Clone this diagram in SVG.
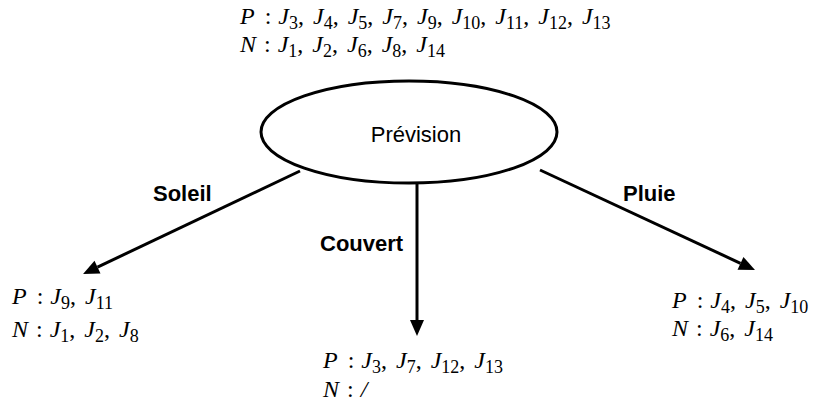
<svg xmlns="http://www.w3.org/2000/svg" width="813" height="408" viewBox="0 0 813 408">
<defs>
<style>
.m{font-family:"Liberation Serif","Times New Roman",serif;font-size:24px;fill:#000}
.i{font-style:italic}
.s{font-size:18px}
.lbl{font-family:"Liberation Sans",Arial,sans-serif;font-size:22px;font-weight:bold;fill:#000}
.node{font-family:"Liberation Sans",Arial,sans-serif;font-size:22px;fill:#000}
.edge{stroke:#000;stroke-width:3;fill:none}
</style>
<marker id="arr" markerUnits="userSpaceOnUse" markerWidth="16" markerHeight="14" refX="0" refY="7" orient="auto" overflow="visible">
<path d="M0,0 L16,7 L0,14 Z" fill="#000"/>
</marker>
</defs>
<rect width="813" height="408" fill="#fff"/>
<g id="root">
<text class="m" x="240" y="24"><tspan class="i">P</tspan><tspan dx="10">:</tspan><tspan class="i" dx="7">J</tspan><tspan class="s" dy="5">3</tspan><tspan dy="-5">,</tspan><tspan class="i" dx="9">J</tspan><tspan class="s" dy="5">4</tspan><tspan dy="-5">,</tspan><tspan class="i" dx="9">J</tspan><tspan class="s" dy="5">5</tspan><tspan dy="-5">,</tspan><tspan class="i" dx="9">J</tspan><tspan class="s" dy="5">7</tspan><tspan dy="-5">,</tspan><tspan class="i" dx="9">J</tspan><tspan class="s" dy="5">9</tspan><tspan dy="-5">,</tspan><tspan class="i" dx="9">J</tspan><tspan class="s" dy="5">10</tspan><tspan dy="-5">,</tspan><tspan class="i" dx="9">J</tspan><tspan class="s" dy="5">11</tspan><tspan dy="-5">,</tspan><tspan class="i" dx="9">J</tspan><tspan class="s" dy="5">12</tspan><tspan dy="-5">,</tspan><tspan class="i" dx="9">J</tspan><tspan class="s" dy="5">13</tspan></text>
<text class="m" x="240" y="52"><tspan class="i">N</tspan><tspan dx="8">:</tspan><tspan class="i" dx="7">J</tspan><tspan class="s" dy="5">1</tspan><tspan dy="-5">,</tspan><tspan class="i" dx="9">J</tspan><tspan class="s" dy="5">2</tspan><tspan dy="-5">,</tspan><tspan class="i" dx="9">J</tspan><tspan class="s" dy="5">6</tspan><tspan dy="-5">,</tspan><tspan class="i" dx="9">J</tspan><tspan class="s" dy="5">8</tspan><tspan dy="-5">,</tspan><tspan class="i" dx="9">J</tspan><tspan class="s" dy="5">14</tspan></text>
</g>
<g id="prevision">
<ellipse cx="409" cy="132" rx="148" ry="51" fill="#fff" stroke="#000" stroke-width="3"/>
<text class="node" x="416" y="142" text-anchor="middle">Prévision</text>
</g>
<g id="soleil">
<text class="m" x="12" y="304"><tspan class="i">P</tspan><tspan dx="10">:</tspan><tspan class="i" dx="7">J</tspan><tspan class="s" dy="5">9</tspan><tspan dy="-5">,</tspan><tspan class="i" dx="9">J</tspan><tspan class="s" dy="5">11</tspan></text>
<text class="m" x="12" y="337"><tspan class="i">N</tspan><tspan dx="8">:</tspan><tspan class="i" dx="7">J</tspan><tspan class="s" dy="5">1</tspan><tspan dy="-5">,</tspan><tspan class="i" dx="9">J</tspan><tspan class="s" dy="5">2</tspan><tspan dy="-5">,</tspan><tspan class="i" dx="9">J</tspan><tspan class="s" dy="5">8</tspan></text>
</g>
<g id="couvert">
<text class="m" x="323" y="368"><tspan class="i">P</tspan><tspan dx="10">:</tspan><tspan class="i" dx="7">J</tspan><tspan class="s" dy="5">3</tspan><tspan dy="-5">,</tspan><tspan class="i" dx="9">J</tspan><tspan class="s" dy="5">7</tspan><tspan dy="-5">,</tspan><tspan class="i" dx="9">J</tspan><tspan class="s" dy="5">12</tspan><tspan dy="-5">,</tspan><tspan class="i" dx="9">J</tspan><tspan class="s" dy="5">13</tspan></text>
<text class="m" x="323" y="397"><tspan class="i">N</tspan><tspan dx="8">:</tspan><tspan class="i" dx="7">/</tspan></text>
</g>
<g id="pluie">
<text class="m" x="672" y="308"><tspan class="i">P</tspan><tspan dx="10">:</tspan><tspan class="i" dx="7">J</tspan><tspan class="s" dy="5">4</tspan><tspan dy="-5">,</tspan><tspan class="i" dx="9">J</tspan><tspan class="s" dy="5">5</tspan><tspan dy="-5">,</tspan><tspan class="i" dx="9">J</tspan><tspan class="s" dy="5">10</tspan></text>
<text class="m" x="672" y="336"><tspan class="i">N</tspan><tspan dx="8">:</tspan><tspan class="i" dx="7">J</tspan><tspan class="s" dy="5">6</tspan><tspan dy="-5">,</tspan><tspan class="i" dx="9">J</tspan><tspan class="s" dy="5">14</tspan></text>
</g>
<g id="connectors">
<line class="edge" x1="300" y1="171" x2="97.5" y2="267.1" marker-end="url(#arr)"/>
<line class="edge" x1="417" y1="183" x2="417" y2="320" marker-end="url(#arr)"/>
<line class="edge" x1="540" y1="170" x2="740.5" y2="263.3" marker-end="url(#arr)"/>
<text class="lbl" x="153" y="201">Soleil</text>
<text class="lbl" x="320" y="251">Couvert</text>
<text class="lbl" x="623" y="201">Pluie</text>
</g>
</svg>
